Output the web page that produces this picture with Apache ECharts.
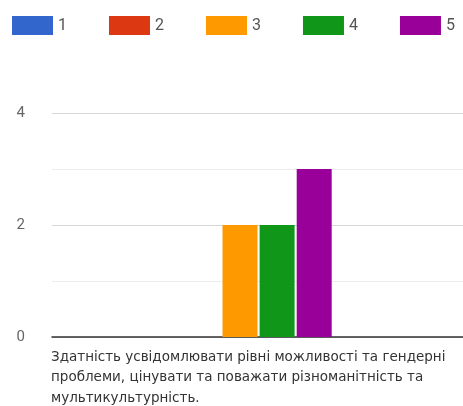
<!DOCTYPE html>
<html><head><meta charset="utf-8">
<script src="https://cdn.jsdelivr.net/npm/echarts@6/dist/echarts.min.js"></script>
<style>html,body{margin:0;padding:0;background:#fff}#c{width:463px;height:406px}</style>
</head><body><div id="c"></div>
<script>
const categories = ["Здатність усвідомлювати рівні можливості та гендерні проблеми, цінувати та поважати різноманітність та мультикультурність."];
const seriesNames = ["1", "2", "3", "4", "5"];
const seriesValues = [[0], [0], [2], [2], [3]];
const seriesColors = ["#3366cc", "#dc3912", "#ff9900", "#109618", "#990099"];
const yTicks = [0, 1, 2, 3, 4];

const labelFont = '13.5px "DejaVu Sans", sans-serif';
function wrapText(text, font, maxW) {
  const ctx = document.createElement('canvas').getContext('2d');
  ctx.font = font;
  const words = text.split(' ');
  const lines = [];
  let cur = '';
  for (const w of words) {
    const t = cur ? cur + ' ' + w : w;
    if (cur && ctx.measureText(t).width > maxW) { lines.push(cur); cur = w; }
    else cur = t;
  }
  if (cur) lines.push(cur);
  return lines.join('\n');
}

const chart = echarts.init(document.getElementById('c'), null, {renderer: 'canvas'});
const yMax = yTicks[yTicks.length - 1];
const option = {
  animation: false,
  legend: {
    left: 7, top: 11, width: 456, itemWidth: 41, itemHeight: 19, itemGap: 42,
    icon: 'rect',
    textStyle: {color: '#555', fontSize: 16, fontFamily: 'Roboto, Arial, sans-serif'},
    data: seriesNames
  },
  grid: [
    {left: 52, right: 0, top: 113, bottom: 69, outerBoundsMode: 'none', containLabel: false},
    {left: 52, right: 35, top: 113, bottom: 69, outerBoundsMode: 'none', containLabel: false}
  ],
  graphic: [{
    type: 'text', x: 51, y: 347, silent: true,
    style: {text: wrapText(categories[0], labelFont, 410), fill: '#333', font: labelFont,
      lineHeight: 20.5}
  }],
  xAxis: [
    {gridIndex: 0, type: 'category', data: categories,
     axisLine: {lineStyle: {color: '#333', width: 1.5}}, axisTick: {show: false},
     axisLabel: {show: false}
    },
    {gridIndex: 1, type: 'category', data: categories, show: false}
  ],
  yAxis: [
    {gridIndex: 0, type: 'value', min: 0, max: yMax, interval: 1,
     axisLine: {show: false}, axisTick: {show: false},
     axisLabel: {color: '#666', fontSize: 15, margin: 27, fontFamily: 'Roboto, Arial, sans-serif',
       formatter: v => (v % 2 === 0 ? String(v) : '')},
     splitLine: {lineStyle: {color: ['#d6d6d6', '#ececec'], width: 1}}
    },
    {gridIndex: 1, type: 'value', min: 0, max: yMax, interval: 1, show: false, splitLine: {show: false}}
  ],
  series: seriesNames.map((n, i) => ({
    name: n, type: 'bar', xAxisIndex: 1, yAxisIndex: 1,
    data: seriesValues[i], barWidth: 35, barGap: '6%',
    itemStyle: {color: seriesColors[i]}
  }))
};
chart.setOption(option);
</script></body></html>
